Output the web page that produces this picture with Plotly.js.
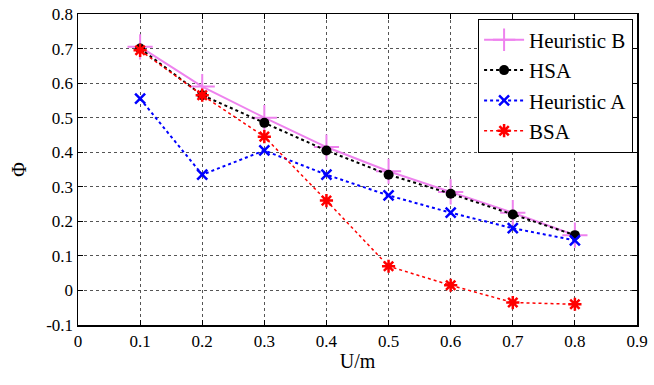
<!DOCTYPE html>
<html><head><meta charset="utf-8">
<script src="https://cdn.plot.ly/plotly-3.0.1.min.js"></script>
<style>html,body{margin:0;padding:0;background:#fff}#c{width:654px;height:385px}
#c svg text{font-family:"Liberation Serif","DejaVu Serif",serif !important}</style>
</head><body><div id="c"></div>
<script>
const xs = [0.1, 0.2, 0.3, 0.4, 0.5, 0.6, 0.7, 0.8];
const heuristicB = [0.705, 0.59, 0.50, 0.415, 0.345, 0.285, 0.225, 0.16];
const hsa = [0.70, 0.565, 0.485, 0.405, 0.335, 0.28, 0.22, 0.16];
const heuristicA = [0.555, 0.335, 0.405, 0.335, 0.275, 0.225, 0.18, 0.145];
const bsa = [0.695, 0.565, 0.445, 0.26, 0.07, 0.015, -0.035, -0.04];
const xTickVals = [0, 0.1, 0.2, 0.3, 0.4, 0.5, 0.6, 0.7, 0.8, 0.9];
const xTickText = ['0', '0.1', '0.2', '0.3', '0.4', '0.5', '0.6', '0.7', '0.8', '0.9'];
const yTickVals = [-0.1, 0, 0.1, 0.2, 0.3, 0.4, 0.5, 0.6, 0.7, 0.8];
const yTickText = ['-0.1', '0', '0.1', '0.2', '0.3', '0.4', '0.5', '0.6', '0.7', '0.8'];

const F = 'Liberation Serif';
const traces = [
  {x: xs, y: heuristicB, name: 'Heuristic B', mode: 'lines+markers',
   line: {color: '#ee82ee', width: 2},
   marker: {symbol: 'cross-thin-open', size: 18, color: '#ee82ee', line: {width: 2, color: '#ee82ee'}}},
  {x: xs, y: hsa, name: 'HSA', mode: 'lines+markers',
   line: {color: '#000', width: 2, dash: 'dot'},
   marker: {symbol: 'circle', size: 10, color: '#000'}},
  {x: xs, y: heuristicA, name: 'Heuristic A', mode: 'lines+markers',
   line: {color: '#0000ff', width: 2, dash: 'dot'},
   marker: {symbol: 'x-thin-open', size: 10, color: '#0000ff', line: {width: 2.5, color: '#0000ff'}}},
  {x: xs, y: bsa, name: 'BSA', mode: 'lines+markers',
   line: {color: '#ff0000', width: 1.5, dash: 'dot'},
   marker: {symbol: 'asterisk-open', size: 11, color: '#ff0000', line: {width: 2.5, color: '#ff0000'}}}
];
const axisCommon = {
  showline: true, linecolor: '#000', linewidth: 1.5, mirror: 'allticks',
  ticks: 'inside', ticklen: 5, tickcolor: '#000', tickwidth: 1,
  showgrid: true, gridcolor: '#555', griddash: 'dot', gridwidth: 1,
  zeroline: false, tickfont: {family: F, size: 17, color: '#000'}
};
const layout = {
  width: 654, height: 385,
  margin: {l: 78, r: 17, t: 14, b: 60},
  paper_bgcolor: '#fff', plot_bgcolor: '#fff',
  font: {family: F, color: '#000'},
  showlegend: true,
  legend: {x: 0.993, y: 0.985, xanchor: 'right', yanchor: 'top',
    bgcolor: '#fff', bordercolor: '#000', borderwidth: 1,
    font: {family: F, size: 21, color: '#000'}, tracegroupgap: 0, itemwidth: 40},
  xaxis: Object.assign({}, axisCommon, {range: [0, 0.9], tickmode: 'array', tickvals: xTickVals, ticktext: xTickText,
    title: {text: 'U/m', font: {family: F, size: 20, color: '#000'}, standoff: 4}}),
  yaxis: Object.assign({}, axisCommon, {range: [-0.1, 0.8], tickmode: 'array', tickvals: yTickVals, ticktext: yTickText,
    title: {text: 'Φ', font: {family: F, size: 20, color: '#000'}, standoff: 14}})
};
Plotly.newPlot('c', traces, layout, {displayModeBar: false, staticPlot: true});
</script></body></html>
